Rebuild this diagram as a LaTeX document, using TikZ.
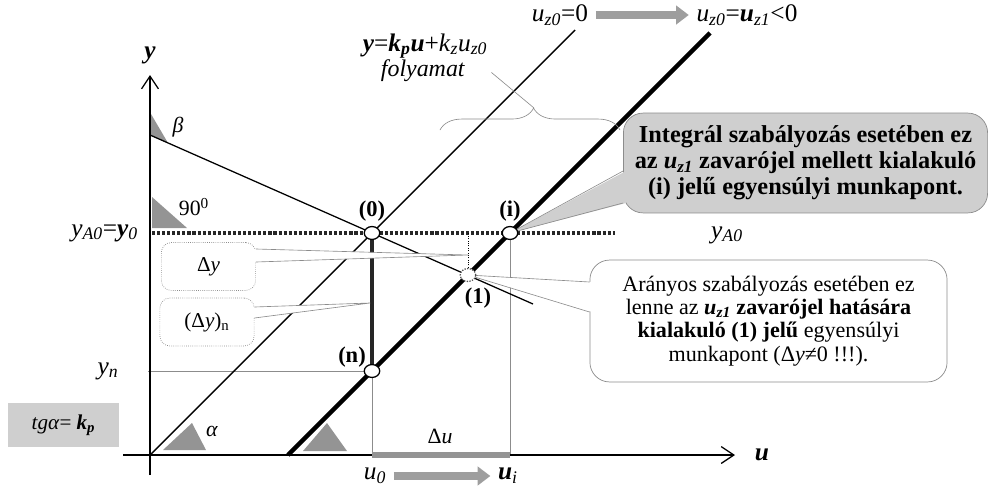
\documentclass[tikz,border=0pt]{standalone}
\usepackage{fontspec}
\setmainfont{Liberation Serif}
\usetikzlibrary{calc,positioning,arrows.meta,shapes.geometric,decorations.pathreplacing}
\definecolor{ShadeGray}{gray}{0.58}
\definecolor{BubbleGray}{gray}{0.81}
\definecolor{ArrowGray}{gray}{0.62}
\definecolor{GuideGray}{gray}{0.55}
\newcommand{\ix}[1]{\textit{#1}}
\newcommand{\bx}[1]{\textbf{\textit{#1}}}
\newcommand{\sbs}[1]{\textsubscript{#1}}

\begin{document}
\begin{tikzpicture}[x=0.025cm,y=-0.025cm,line join=round,
  axis/.style={line width=0.9pt,-{Straight Barb[length=9pt,width=12pt]}},
  guide/.style={GuideGray,line width=0.45pt},
  anglemark/.style={fill=ShadeGray},
  workpt/.style={ellipse,draw,line width=0.9pt,fill=white,inner sep=0pt,
    minimum width=11pt,minimum height=9.2pt},
  ptlabel/.style={font=\fontsize{16}{18}\selectfont\bfseries},
  axlabel/.style={font=\fontsize{18}{20}\selectfont},
  smlabel/.style={font=\fontsize{15.5}{17}\selectfont},
  flowarrow/.style={ArrowGray,line width=5.5pt,shorten <=2pt,shorten >=2pt,
    -{Triangle[length=9pt,width=13pt]}},
  tagbox/.style={draw=GuideGray,densely dotted,line width=0.5pt,rounded corners=7pt,
    fill=white,minimum width=67pt,minimum height=34pt,font=\fontsize{15}{17}\selectfont},
  bubble/.style={draw=GuideGray,line width=0.5pt,rounded corners=14pt,align=center}]
  \useasboundingbox (0,0) rectangle (989,488);

  % key points
  \coordinate (O) at (150,455);
  \coordinate (Z) at (288,455);
  \coordinate (c0) at (372,233);
  \coordinate (ci) at (510,233);
  \coordinate (cn) at (372,371);
  \coordinate (c1) at (468,275);

  % guides
  \draw[guide] (148,371) -- (cn);
  \draw[guide] (cn) -- (cn |- O);
  \draw[guide] (ci) -- (ci |- O);

  % angle marks
  \fill[anglemark] (151,114) -- (151,136) -- (168,143) -- cycle;
  \fill[anglemark] (152,197) -- (152,228) -- (187,228) -- cycle;
  \fill[anglemark] (163,450) -- (206,450) -- (192,423) -- cycle;
  \fill[anglemark] (303,451) -- (347,451) -- (327,423) -- cycle;

  % axes
  \draw[axis] (150,475) -- (150,75);
  \draw[axis] (123,455) -- (735,455);
  \draw[ShadeGray,line width=3.8pt] (cn |- O) -- (ci |- O);

  % set-point line
  \draw[line width=2.2pt,dash pattern=on 2.2pt off 1.4pt,black!85] (152,233) -- (615,233);
  \draw[densely dotted,line width=0.7pt] (c1) -- (c1 |- c0);

  % characteristics
  \draw[line width=1pt] (O) -- (575,30);
  \draw[line width=3.2pt] (Z) -- (710,33);
  \draw[line width=0.9pt] (150,135) -- (533,304);
  \draw[line width=3.5pt,black!85] (c0) -- (cn);

  % small tags
  \node[tagbox] (dybox) at (208.5,266.5) {Δ\ix{y}};
  \node[tagbox] (dynbox) at (207,322) {(Δ\ix{y})\sbs{n}};
  \coordinate (dytip) at (468,255);
  \coordinate (dyntip) at (370,303);
  \fill[white] ($(dybox.east)+(-2,-17.5)$) -- (dytip) -- ($(dybox.east)+(-2,-4.5)$) -- cycle;
  \draw[guide] ($(dybox.east)+(0,-17.5)$) -- (dytip) -- ($(dybox.east)+(0,-4.5)$);
  \fill[white] ($(dynbox.east)+(-2,-15)$) -- (dyntip) -- ($(dynbox.east)+(-2,-4)$) -- cycle;
  \draw[guide] ($(dynbox.east)+(0,-15)$) -- (dyntip) -- ($(dynbox.east)+(0,-4)$);

  % callouts
  \node[bubble,fill=BubbleGray,minimum width=259pt,minimum height=71pt,
    font=\fontsize{17.3}{18.6}\selectfont\bfseries] (intbox) at (805.5,163)
    {Integrál szabályozás esetében ez\\
     az \ix{u}\sbs{\ix{z1}} zavarójel mellett kialakuló\\
     (i) jelű egyensúlyi munkapont.};
  \fill[BubbleGray] ($(intbox.west)+(3,8)$) -- (ci) -- ($(intbox.west)+(3,40)$) -- cycle;
  \draw[guide] ($(intbox.west)+(0,8)$) -- (ci) -- ($(intbox.west)+(0,40)$);

  \node[bubble,fill=white,minimum width=254pt,minimum height=86.7pt,
    font=\fontsize{15.7}{16.6}\selectfont] (propbox) at (768.5,321)
    {Arányos szabályozás esetében ez\\
     lenne az \textbf{\ix{u}\sbs{\ix{z1}} zavarójel hatására}\\
     \textbf{kialakuló (1) jelű} egyensúlyi\\
     munkapont (Δ\ix{y}≠0 !!!).};
  \fill[white] ($(propbox.west)+(3,-39)$) -- (c1) -- ($(propbox.west)+(3,-9)$) -- cycle;
  \draw[guide] ($(propbox.west)+(0,-39)$) -- (c1) -- ($(propbox.west)+(0,-9)$);

  % working points
  \node[workpt] (P0) at (c0) {};
  \node[workpt] (Pi) at (ci) {};
  \node[workpt] (Pn) at (cn) {};
  \node[workpt,densely dotted,draw=black!70] (P1) at (c1) {};
  \node[ptlabel,above=0pt of P0] (L0) {(0)};
  \node[ptlabel,above=0pt of Pi] (Li) {(i)};
  \node[ptlabel] (L1) at (478,298) {(1)};
  \node[ptlabel] (Ln) at (352,357) {(n)};

  % axis labels
  \node[axlabel] (ylab) at (150,55) {\bx{y}};
  \node[axlabel] (ulab) at (762,455) {\bx{u}};
  \node[axlabel,anchor=east] (yA0) at (143,233) {\ix{y}\sbs{\ix{A0}}=\bx{y}\sbs{\ix{0}}};
  \node[axlabel] (yA0r) at (727,235) {\ix{y}\sbs{\ix{A0}}};
  \node[axlabel] (yn) at (108,371) {\ix{y}\sbs{\ix{n}}};
  \node[smlabel] (beta) at (178,127) {\ix{β}};
  \node[smlabel] (ninety) at (194,207) {90\textsuperscript{0}};
  \node[smlabel] (alpha) at (212,431) {\ix{α}};
  \node[smlabel] (du) at (440,436) {Δ\ix{u}};
  \node[fill=BubbleGray,minimum width=79pt,minimum height=31pt,
    font=\fontsize{15}{17}\selectfont] (tgbox) at (63.5,425) {\ix{tgα}= \bx{k}\sbs{\bx{p}}};

  % disturbance change
  \node[axlabel] (uz0) at (560,15) {\ix{u}\sbs{\ix{z0}}=0};
  \node[axlabel] (uz1) at (747,15) {\ix{u}\sbs{\ix{z0}}=\bx{u}\sbs{\ix{z1}}<0};
  \draw[flowarrow] (uz0) -- (uz1);

  % input change
  \node[axlabel] (u0) at (375,476) {\ix{u}\sbs{\ix{0}}};
  \node[axlabel] (ui) at (508,476) {\bx{u}\sbs{\ix{i}}};
  \draw[flowarrow] (u0) -- (ui);

  % process
  \node[axlabel,inner sep=0.5pt] (proc) at (425,46)
    {\bx{y}=\bx{k}\sbs{\bx{p}}\bx{u}+\ix{k}\sbs{\ix{z}}\ix{u}\sbs{\ix{z0}}};
  \node[axlabel,inner sep=0.5pt,font=\fontsize{17}{19}\selectfont] (folyamat) at (423,71) {\ix{folyamat}};
  \draw[guide,decorate,decoration={brace,amplitude=15.6pt,aspect=0.52}] (440,130) -- (620,130);
  \coordinate (btip) at (534,108);
  \draw[guide] (btip) -- ([xshift=18pt,yshift=-1pt]folyamat.east);
\end{tikzpicture}
\end{document}
